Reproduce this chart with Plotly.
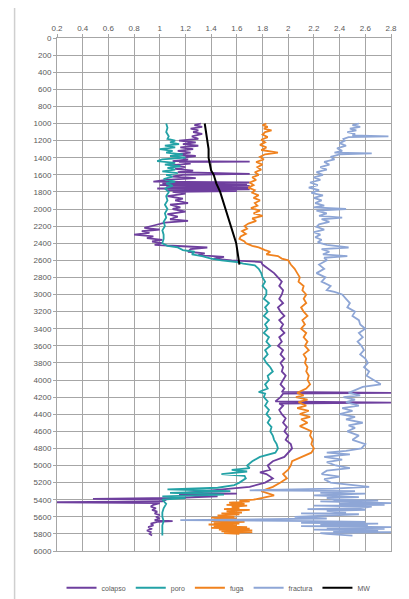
import plotly.graph_objects as go

# ---------------- data ----------------
colapso_depth = [1000,1020,1040,1060,1080,1100,1120,1150,1180,1200,1220,1240,1260,1280,1300,1320,1340,1360,1380,1400,
                 1420,1440,1445,1450,1470,1490,1510,1530,1550,1570,1590,1600,1620,1640,1660,1680,1690,1700,1710,1720,
                 1730,1740,1750,1760,1770,1780,1790,1800,1820,1850,1880,1900,1930,1950,1980,2000,2030,2060,2090,2120,
                 2140,2160,2190,2220,2240,2260,2280,2300,2320,2340,2360,2380,2400,2420,2430,2450,2470,2500,2520,2540,
                 2560,2580,2600,2620,2650,2700,2750,2800,2850,2900,2950,3000,3050,3100,3150,3200,3250,3300,3350,3400,
                 3450,3500,3550,3600,3650,3700,3750,3800,3850,3900,3950,4000,4050,4100,4140,4150,4160,4200,4250,4265,
                 4275,4300,4350,4400,4450,4500,4550,4600,4650,4700,4750,4800,4850,4900,4950,5000,5050,5080,5100,5150,
                 5200,5250,5270,5300,5320,5330,5340,5360,5380,5390,5400,5420,5430,5440,5460,5480,5500,5520,5540,5560,
                 5580,5600,5620,5640,5650,5660,5680,5700,5720,5740,5760,5780,5800,5820]
colapso_val = [1.32,1.27,1.33,1.24,1.30,1.26,1.33,1.25,1.30,1.15,1.28,1.18,1.30,1.16,1.26,1.14,1.24,1.12,1.28,1.18,
               1.22,1.10,1.70,1.15,1.24,1.08,1.20,1.12,1.26,1.14,1.70,1.18,1.10,1.28,1.05,0.95,1.70,1.02,1.68,1.00,
               1.70,1.05,1.69,0.98,1.70,1.06,1.60,1.10,1.20,1.06,1.18,1.12,1.22,1.08,1.16,1.10,1.20,1.06,1.14,1.08,
               1.22,1.04,0.96,0.88,1.00,0.86,0.92,0.80,0.95,0.90,1.02,0.94,1.02,0.96,1.10,1.37,1.24,1.22,1.35,1.30,
               1.50,1.42,1.56,1.79,1.80,1.85,1.89,1.92,1.95,1.93,1.96,1.95,1.93,1.96,1.92,1.94,1.97,1.93,1.96,1.94,
               1.97,1.93,1.95,1.92,1.96,1.94,1.97,1.94,1.96,1.95,1.98,1.96,1.94,1.97,1.95,2.80,1.96,1.94,1.90,2.80,
               1.93,1.96,1.93,1.95,1.98,1.96,1.99,1.97,2.00,1.98,2.02,2.03,2.00,1.97,1.88,1.84,1.86,1.78,1.83,1.88,
               1.82,1.70,1.55,1.30,1.20,1.60,1.15,1.45,1.10,0.48,1.05,1.02,0.20,1.00,0.95,0.93,0.97,0.94,0.98,0.96,
               1.00,0.97,1.00,0.96,1.10,0.98,0.93,0.95,0.91,0.94,0.90,0.93,0.92,0.94]

poro_depth = [1000,1050,1100,1150,1180,1200,1220,1240,1260,1280,1300,1320,1340,1360,1380,1400,1420,1440,1460,1480,
              1500,1520,1540,1560,1580,1600,1620,1650,1680,1700,1730,1760,1800,1850,1900,1950,2000,2050,2100,2150,
              2200,2250,2300,2350,2400,2430,2450,2480,2500,2530,2550,2580,2600,2620,2640,2660,2700,2750,2800,2850,
              2900,2950,3000,3050,3100,3150,3200,3250,3300,3350,3400,3450,3500,3550,3600,3650,3700,3750,3800,3850,
              3900,3950,4000,4050,4100,4140,4160,4200,4250,4300,4350,4400,4450,4500,4550,4600,4650,4700,4750,4800,
              4850,4900,4950,5000,5030,5050,5070,5100,5120,5150,5200,5230,5260,5280,5300,5320,5340,5360,5380,5400,
              5450,5500,5550,5600,5650,5700,5750,5800,5820]
poro_val = [1.05,1.06,1.05,1.07,1.06,1.12,1.08,1.15,1.04,1.12,1.00,1.10,1.05,1.18,1.08,1.20,1.02,0.98,1.12,1.04,
            1.16,1.06,1.12,1.02,1.14,1.05,1.10,1.03,1.12,1.05,1.10,1.04,1.07,1.05,1.06,1.04,1.06,1.04,1.05,1.03,
            1.04,1.02,1.03,1.03,1.02,1.06,1.14,1.18,1.27,1.25,1.33,1.40,1.48,1.60,1.65,1.74,1.77,1.79,1.80,1.82,
            1.80,1.83,1.83,1.81,1.85,1.82,1.84,1.81,1.85,1.82,1.84,1.81,1.85,1.83,1.86,1.82,1.84,1.81,1.83,1.86,
            1.88,1.84,1.85,1.82,1.84,1.77,1.82,1.81,1.84,1.82,1.85,1.83,1.86,1.84,1.87,1.86,1.88,1.89,1.91,1.92,
            1.90,1.78,1.72,1.68,1.70,1.56,1.68,1.48,1.66,1.67,1.62,1.58,1.45,1.06,1.55,1.08,1.50,1.02,1.20,1.02,
            1.05,1.03,1.02,1.02,1.03,1.02,1.02,1.02,1.02]

fuga_depth = [1000,1020,1040,1060,1080,1100,1130,1160,1190,1220,1250,1280,1310,1340,1360,1390,1420,1450,1480,1510,
              1540,1570,1600,1630,1660,1690,1720,1750,1780,1810,1840,1870,1900,1930,1960,1990,2020,2050,2080,2110,
              2140,2170,2200,2230,2260,2290,2320,2350,2380,2400,2430,2450,2480,2500,2530,2550,2580,2600,2650,2700,
              2750,2800,2850,2900,2950,3000,3050,3100,3150,3200,3250,3300,3350,3400,3450,3500,3550,3600,3650,3700,
              3750,3800,3850,3900,3950,4000,4050,4100,4150,4180,4200,4230,4260,4300,4330,4360,4400,4430,4460,4500,
              4540,4580,4600,4650,4700,4750,4800,4850,4900,4950,5000,5050,5100,5150,5200,5250,5300,5330,5350,5380,
              5400,5410,5420,5435,5450,5460,5470,5485,5500,5510,5520,5535,5550,5560,5570,5585,5600,5610,5620,5630,
              5640,5650,5660,5670,5680,5690,5700,5710,5720,5730,5740,5750,5760,5770,5780,5790,5800]
fuga_val = [1.83,1.80,1.84,1.81,1.87,1.82,1.80,1.84,1.79,1.82,1.78,1.83,1.79,1.92,1.82,1.78,1.81,1.75,1.80,1.76,
            1.79,1.74,1.77,1.72,1.75,1.70,1.73,1.69,1.74,1.72,1.77,1.73,1.78,1.74,1.76,1.71,1.78,1.73,1.80,1.72,
            1.75,1.69,1.66,1.68,1.64,1.67,1.63,1.62,1.66,1.67,1.72,1.77,1.82,1.86,1.83,1.92,1.95,2.00,2.02,2.05,
            2.07,2.09,2.08,2.12,2.11,2.14,2.12,2.14,2.10,2.12,2.15,2.11,2.13,2.10,2.14,2.12,2.15,2.13,2.16,2.12,
            2.14,2.13,2.15,2.14,2.16,2.15,2.17,2.14,2.07,2.12,2.06,2.15,2.08,2.14,2.07,2.16,2.09,2.17,2.10,2.15,
            2.09,2.16,2.18,2.17,2.19,2.18,2.20,2.18,2.10,2.03,2.02,2.00,1.96,1.99,1.94,1.88,1.79,1.86,1.89,1.80,
            1.73,1.62,1.70,1.54,1.66,1.52,1.68,1.56,1.62,1.50,1.70,1.52,1.64,1.48,1.62,1.45,1.58,1.40,1.60,1.42,
            1.56,1.40,1.66,1.42,1.62,1.38,1.60,1.42,1.68,1.40,1.70,1.46,1.72,1.48,1.72,1.50,1.62]

fractura_depth = [1000,1020,1040,1060,1080,1100,1120,1140,1150,1160,1180,1200,1230,1260,1290,1320,1340,1350,1360,1390,
                  1420,1450,1480,1510,1540,1570,1600,1630,1660,1690,1720,1750,1780,1810,1840,1870,1900,1930,1960,1980,
                  2000,2020,2050,2080,2100,2120,2150,2180,2210,2240,2270,2300,2330,2360,2390,2420,2450,2470,2500,2530,
                  2550,2570,2600,2650,2700,2750,2800,2850,2900,2950,2970,3000,3050,3100,3150,3200,3250,3300,3350,3400,
                  3450,3500,3550,3600,3650,3700,3750,3800,3850,3900,3950,4000,4050,4080,4100,4150,4180,4200,4230,4260,
                  4300,4330,4360,4400,4430,4460,4500,4530,4560,4600,4650,4700,4750,4800,4830,4850,4870,4900,4930,4960,
                  5000,5030,5060,5100,5130,5160,5200,5230,5250,5270,5290,5300,5320,5330,5350,5370,5380,5400,5410,5420,
                  5430,5440,5450,5460,5470,5480,5500,5510,5520,5530,5550,5560,5570,5590,5600,5620,5640,5650,5660,5670,
                  5680,5690,5700,5710,5720,5730,5740,5750,5760,5770,5780,5790,5800,5820]
fractura_val = [2.55,2.50,2.56,2.48,2.53,2.46,2.52,2.50,2.78,2.47,2.43,2.44,2.40,2.45,2.38,2.42,2.36,2.65,2.40,2.33,
                2.36,2.28,2.32,2.25,2.30,2.22,2.27,2.20,2.25,2.17,2.23,2.16,2.24,2.18,2.27,2.20,2.26,2.21,2.28,2.20,
                2.45,2.22,2.30,2.24,2.42,2.26,2.32,2.24,2.22,2.28,2.20,2.25,2.21,2.26,2.23,2.30,2.47,2.26,2.32,2.27,
                2.46,2.28,2.30,2.24,2.28,2.22,2.29,2.26,2.33,2.30,2.36,2.42,2.45,2.48,2.46,2.52,2.50,2.55,2.56,2.60,
                2.55,2.58,2.54,2.57,2.59,2.56,2.60,2.62,2.59,2.63,2.61,2.66,2.72,2.58,2.55,2.47,2.56,2.43,2.52,2.45,
                2.55,2.42,2.50,2.40,2.52,2.45,2.58,2.47,2.52,2.46,2.55,2.50,2.60,2.57,2.45,2.30,2.48,2.28,2.42,2.30,
                2.37,2.48,2.30,2.26,2.40,2.28,2.33,2.50,2.63,2.35,1.70,2.52,2.25,2.60,2.20,2.55,2.30,2.36,2.70,2.25,
                2.62,2.80,2.40,2.75,2.20,2.65,2.55,2.15,2.60,2.30,2.45,2.10,2.55,2.20,2.05,2.30,1.16,2.20,2.60,2.10,
                2.70,2.25,2.62,2.10,2.80,2.30,2.75,2.20,2.70,2.35,2.80,2.25,2.30,2.50]

mw_depth = [1000,1100,1200,1250,1300,1400,1500,1550,1600,1700,1800,1900,2000,2100,2200,2300,2400,2500,2600,2650]
mw_val = [1.35,1.36,1.37,1.37,1.38,1.38,1.39,1.40,1.42,1.44,1.47,1.49,1.51,1.53,1.555,1.575,1.595,1.605,1.615,1.62]

series_names = ["colapso", "poro", "fuga", "fractura", "MW"]
x_ticks = [0.2, 0.4, 0.6, 0.8, 1, 1.2, 1.4, 1.6, 1.8, 2, 2.2, 2.4, 2.6, 2.8]
y_ticks = list(range(0, 6001, 200))

# ---------------- figure ----------------
colors = ["#6E3F9E", "#23A2A6", "#F0821E", "#8EA6D6", "#000000"]
data = [(colapso_val, colapso_depth), (poro_val, poro_depth), (fuga_val, fuga_depth),
        (fractura_val, fractura_depth), (mw_val, mw_depth)]

fig = go.Figure()
for name, col, (xv, yv) in zip(series_names, colors, data):
    fig.add_trace(go.Scatter(x=xv, y=yv, mode="lines", name=name,
                             line=dict(color=col, width=2 if name == "MW" else 1.8)))

# page body adds an 8px offset, so the figure is 8px smaller and margins shifted
fig.update_layout(
    width=401, height=591,
    margin=dict(l=49, r=12, t=30, b=48),
    paper_bgcolor="white", plot_bgcolor="white",
    font=dict(family="Liberation Sans, Arial, sans-serif", size=8, color="#595959"),
    showlegend=True,
    legend=dict(orientation="h", xref="container", yref="container",
                x=0.525, xanchor="center", y=0.019, yanchor="middle",
                font=dict(size=7, color="#595959"), itemwidth=30, tracegroupgap=0),
    shapes=[dict(type="rect", xref="paper", yref="paper",
                 x0=-0.127, x1=1.045, y0=-0.2, y1=1.066,
                 line=dict(color="#CFCFCF", width=1.5), fillcolor="rgba(0,0,0,0)", layer="above")],
)
fig.update_xaxes(side="top", range=[0.2, 2.8], tickvals=x_ticks,
                 ticktext=[("%g" % v) for v in x_ticks],
                 showgrid=True, gridcolor="#A6A6A6", gridwidth=1,
                 showline=True, linecolor="#A6A6A6", mirror=True,
                 ticks="outside", ticklen=3, tickcolor="#A6A6A6", zeroline=False)
fig.update_yaxes(range=[6000, 0], tickvals=y_ticks, ticktext=[str(v) for v in y_ticks],
                 showgrid=True, gridcolor="#A6A6A6", gridwidth=1,
                 showline=True, linecolor="#A6A6A6", mirror=True,
                 ticks="outside", ticklen=3, tickcolor="#A6A6A6", zeroline=False)

fig.write_html("out.html")
